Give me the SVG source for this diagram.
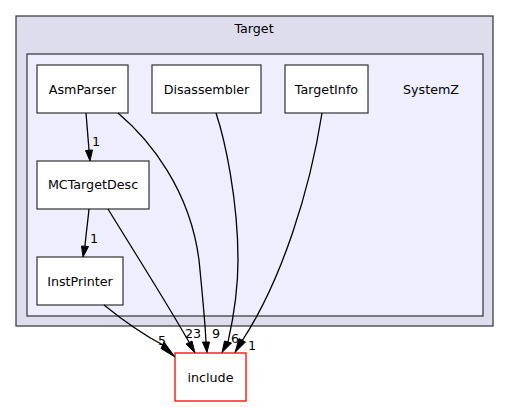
<svg xmlns="http://www.w3.org/2000/svg" width="509" height="407" viewBox="0 0 509 407">
<style>
text{font-family:"DejaVu Sans","Liberation Sans",sans-serif;font-size:12.7px;fill:#000}
.n{text-anchor:middle}
.box{fill:#fff;stroke:#404040;stroke-width:1.3}
.e{fill:none;stroke:#000;stroke-width:1.3}
.ah{fill:#000;stroke:#000;stroke-width:1}
</style>
<rect width="509" height="407" fill="#fff"/>
<g id="clust_Target">
<rect x="16" y="16" width="477" height="310" fill="#ddddee" stroke="#404040" stroke-width="1.3"/>
<text class="n" x="254" y="33">Target</text>
</g>
<g id="clust_SystemZ">
<rect x="27" y="54" width="456" height="262" fill="#eeeeff" stroke="#404040" stroke-width="1.3"/>
<text class="n" x="431" y="94">SystemZ</text>
</g>
<g id="node_AsmParser">
<rect class="box" x="37" y="65" width="91" height="48"/>
<text class="n" x="82.5" y="94">AsmParser</text>
</g>
<g id="node_Disassembler">
<rect class="box" x="152" y="65" width="109" height="48"/>
<text class="n" x="206.5" y="94">Disassembler</text>
</g>
<g id="node_TargetInfo">
<rect class="box" x="285" y="65" width="83" height="48"/>
<text class="n" x="326.5" y="94">TargetInfo</text>
</g>
<g id="node_MCTargetDesc">
<rect class="box" x="37" y="161" width="112" height="48"/>
<text class="n" x="93" y="189">MCTargetDesc</text>
</g>
<g id="node_InstPrinter">
<rect class="box" x="37" y="257" width="86" height="48"/>
<text class="n" x="80" y="286">InstPrinter</text>
</g>
<g id="node_include">
<rect x="175" y="353" width="71" height="48" fill="#fff" stroke="#ff0000" stroke-width="1.3"/>
<text class="n" x="210.5" y="382">include</text>
</g>
<g id="edges">
<path class="e" d="M86,113 C87,125 88,138 89,150"/>
<polygon class="ah" points="85.5,150.5 90,161 92.5,150"/>
<text x="92" y="146">1</text>
<path class="e" d="M89,209 C88,220 86,234 85,246"/>
<polygon class="ah" points="81.5,246 83,257 88.5,246.5"/>
<text x="90" y="243">1</text>
<path class="e" d="M104,305 C120,318 140,333 163,345"/>
<polygon class="ah" points="161,348.5 175,357 164,342"/>
<text x="158" y="345">5</text>
<path class="e" d="M108,209 C130,245 165,300 189,342"/>
<polygon class="ah" points="186,344 195,353 192,341"/>
<text x="185" y="338">23</text>
<path class="e" d="M118,113 C150,140 190,190 199,260 C202,290 205,320 206,342"/>
<polygon class="ah" points="202.5,342 207,352.5 209.5,342"/>
<text x="212" y="338">9</text>
<path class="e" d="M216,113 C225,140 238,200 238,260 C238,290 233,320 228,342"/>
<polygon class="ah" points="224.5,341 222,352.5 231.5,343"/>
<text x="231" y="343">6</text>
<path class="e" d="M322,113 C310,190 282,280 242,341"/>
<polygon class="ah" points="239,338.5 235,352.5 245.5,342"/>
<text x="248" y="350">1</text>
</g>
</svg>
